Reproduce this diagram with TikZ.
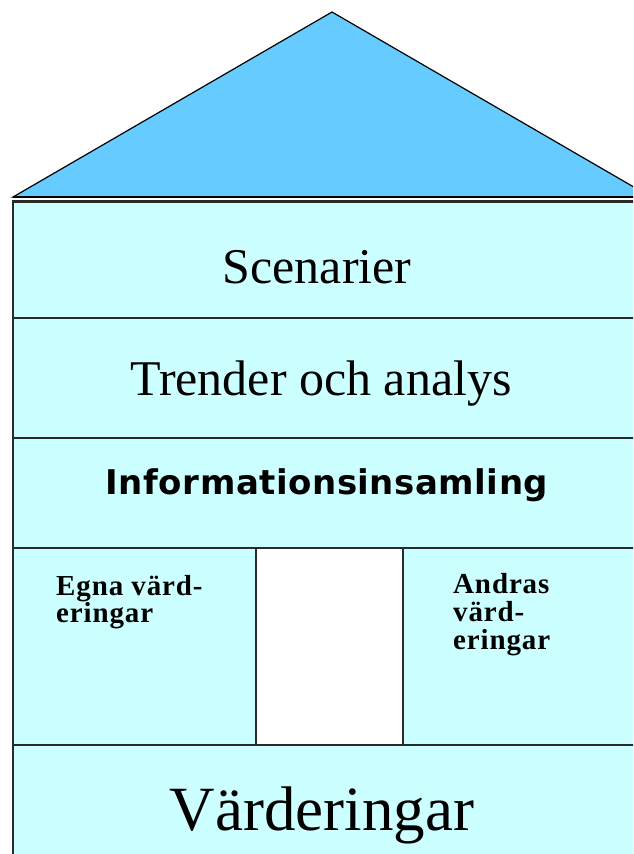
\documentclass[tikz,border=0pt]{standalone}
\usepackage{fontspec}
\setmainfont{Liberation Serif}
\newfontfamily\verdfont{DejaVu Sans}[LetterSpace=1.5]
\newfontfamily\smallserif{Liberation Serif}[LetterSpace=3]
\definecolor{roofblue}{HTML}{66CCFF}
\definecolor{wallcyan}{HTML}{CCFFFF}
\definecolor{edgegray}{HTML}{2A2A2A}
\tikzset{
  bigserif/.style={anchor=base, inner sep=0pt, font=\fontsize{50}{60}\selectfont},
  smallbold/.style={anchor=base west, inner sep=0pt, font=\smallserif\bfseries\fontsize{29}{30}\selectfont},
  divider/.style={draw=edgegray, line width=1.8pt},
}
\begin{document}
\begin{tikzpicture}[x=1pt,y=-1pt]
\useasboundingbox (0,0) rectangle (633,854);
\clip (0,0) rectangle (633,854);
\fill[white] (0,0) rectangle (633,854);
% roof
\draw[fill=roofblue, draw=black, line width=1.2pt, line join=miter] (13,197) -- (332,12) -- (651,197) -- cycle;
\draw[black, line width=2.2pt] (13,197) -- (660,197);
% house body
\draw[fill=wallcyan, draw=edgegray, line width=2.6pt] (13,201.5) rectangle (680,900);
\draw[divider] (13,318) -- (680,318);
\draw[divider] (13,438) -- (680,438);
\draw[divider] (13,548) -- (680,548);
\draw[divider] (13,745) -- (680,745);
% door
\draw[divider, fill=white] (256,548) rectangle (403,745);
% texts
\node[bigserif] (scen) at (317,283) {Scenarier};
\node[bigserif] (trend) at (321,395) {Trender och analys};
\node[anchor=base, inner sep=0pt, font=\verdfont\bfseries\fontsize{34}{40}\selectfont] (info) at (327,494) {Informationsinsamling};
\node[smallbold] (egna1) at (56,595) {Egna värd-};
\node[smallbold] (egna2) at (56,622) {eringar};
\node[smallbold] (andr1) at (453,593) {Andras};
\node[smallbold] (andr2) at (453,621) {värd-};
\node[smallbold] (andr3) at (453,649) {eringar};
\node[anchor=base, inner sep=0pt, font=\fontsize{63}{70}\selectfont] (vard) at (322,830) {Värderingar};
\end{tikzpicture}
\end{document}
